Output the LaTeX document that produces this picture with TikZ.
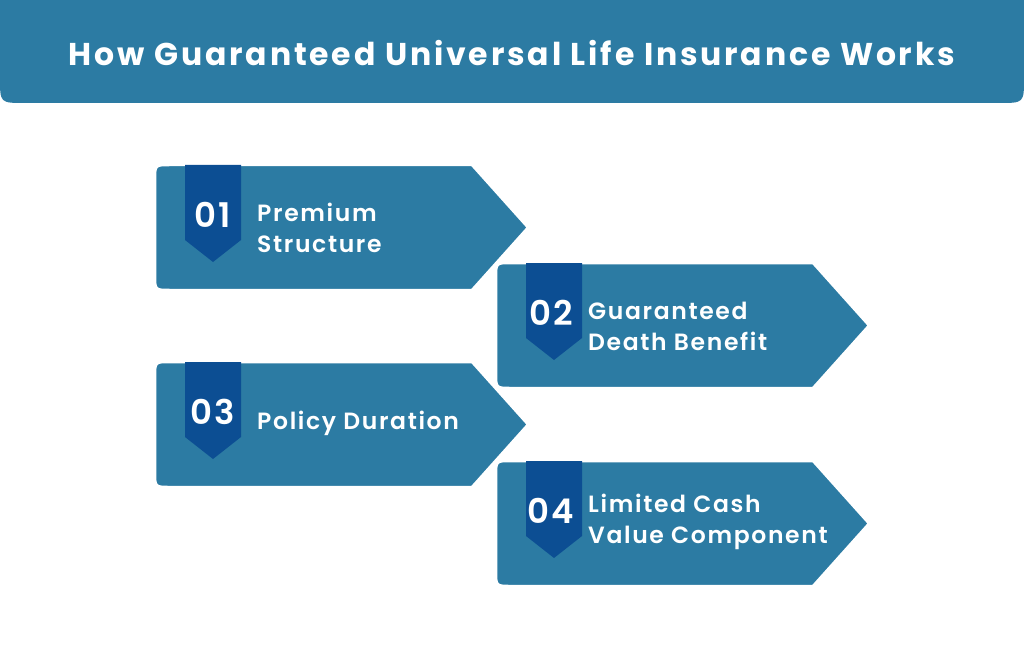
\documentclass[tikz,border=0pt]{standalone}
\usepackage{fontspec}
\setmainfont{Poppins}
\newfontfamily\titlefont{Poppins Bold}[LetterSpace=9]
\newfontfamily\boxfont{Poppins SemiBold}[LetterSpace=7]
\newfontfamily\numfont{Poppins SemiBold}[LetterSpace=6]
\definecolor{mainblue}{HTML}{2C7BA3}
\definecolor{darkblue}{HTML}{0C4E93}
\tikzset{
  arrowbox/.style={fill=mainblue, draw=white, line width=2.5pt, line join=miter},
  ribbon/.style={fill=darkblue},
  numtext/.style={text=white, font=\numfont\fontsize{34}{34}\selectfont, inner sep=0pt},
  labeltext/.style={text=white, font=\boxfont\fontsize{23.5}{31}\selectfont, align=left, anchor=west, inner sep=0pt},
}
\newcommand{\arrowshape}[4]{% left, top, bottom, name
  \pgfmathsetmacro{\lx}{#1}\pgfmathsetmacro{\ty}{#2}\pgfmathsetmacro{\by}{#3}
  \pgfmathsetmacro{\ex}{#1+317}\pgfmathsetmacro{\tx}{#1+373}
  \pgfmathsetmacro{\my}{(#2+#3)/2}
  \draw[arrowbox] (\lx+15,\ty) -- (\ex,\ty) -- (\tx,\my) -- (\ex,\by) -- (\lx+15,\by)
     .. controls (\lx,\by) .. (\lx,\by-15) -- (\lx,\ty+15) .. controls (\lx,\ty) .. cycle;
  \coordinate (#4) at (\lx,\ty);
  \fill[ribbon] (\lx+30,\ty) -- (\lx+86,\ty) -- (\lx+86,\ty+75) -- (\lx+58,\ty+97) -- (\lx+30,\ty+75) -- cycle;
}
\begin{document}
\begin{tikzpicture}[x=1pt,y=-1pt]
\useasboundingbox (0,0) rectangle (1024,652);
\fill[white] (0,0) rectangle (1024,652);
% title bar
\fill[mainblue] (0,-5) -- (1024,-5) -- (1024,78) .. controls (1024,103) .. (999,103) -- (25,103) .. controls (0,103) .. (0,78) -- cycle;
\node[text=white, font=\titlefont\fontsize{31.5}{31.5}\selectfont, inner sep=0pt] (title) at (512,53) {How Guaranteed Universal Life Insurance Works};
% boxes
\arrowshape{155}{165}{290}{b1}
\node[numtext] (n1) at (213,215) {01};
\node[labeltext] (l1) at (257,228) {Premium\\Structure};
\arrowshape{496}{263}{388}{b3}
\node[numtext] (n2) at (551,313) {02};
\node[labeltext] (l2) at (588,326) {Guaranteed\\Death Benefit};
\arrowshape{155}{362}{487}{b2}
\node[numtext] (n3) at (213,412) {03};
\node[labeltext] (l3) at (257,423) {Policy Duration};
\arrowshape{496}{461}{586}{b4}
\node[numtext] (n4) at (551,511) {04};
\node[labeltext] (l4) at (588,522) {Limited Cash\\Value Component};
\end{tikzpicture}
\end{document}
